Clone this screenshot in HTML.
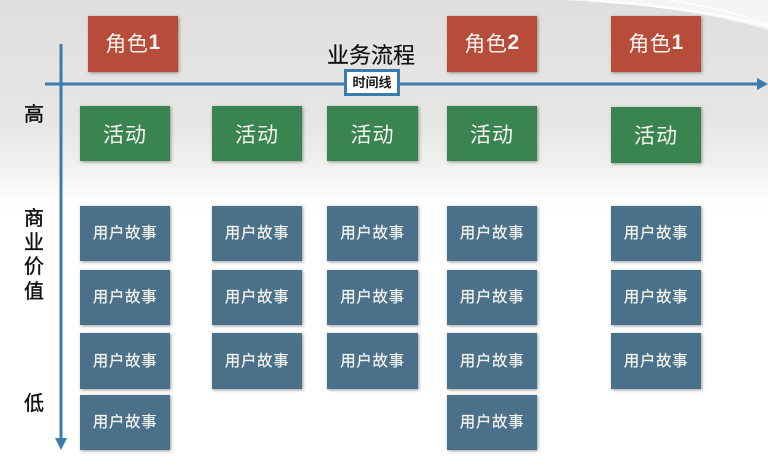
<!DOCTYPE html>
<html><head><meta charset="utf-8">
<style>
html,body{margin:0;padding:0;background:#fff}
#c{position:relative;width:768px;height:475px;overflow:hidden;font-family:"Liberation Sans","Noto Sans CJK SC",sans-serif;background:linear-gradient(#dfdedc 0,#e3e3e1 60px,#e6e6e4 125px,#f2f2f1 170px,#fdfdfd 200px,#fff 215px)}
.b{position:absolute;display:flex;align-items:center;justify-content:center;color:#f6f4ef;box-shadow:1px 1px 3px rgba(70,70,70,.55);white-space:nowrap}
.b b{margin-left:0;font-size:21px}
.r{background:#b84c3a;font-size:21px;height:56px;letter-spacing:.6px;padding-bottom:2px;box-sizing:border-box}
.g{background:#3a8452;font-size:21px;height:55px;letter-spacing:1px}
.u{background:#4a7189;font-size:15.5px;height:55px;letter-spacing:.6px;padding-bottom:3px;box-sizing:border-box;-webkit-text-stroke:.2px #f6f4ef}
.t{position:absolute;color:#111;font-size:20px;line-height:24px;-webkit-text-stroke:.4px #111}
svg{position:absolute;left:0;top:0}
</style></head><body><div id="c">
<svg width="768" height="475">
<path d="M560 0 Q690 6 768 30 L768 0Z" fill="#f5f5f4"/>
<path d="M590 0 Q700 8 768 26" fill="none" stroke="#fff" stroke-width="2"/>
<path d="M670 0 Q730 10 768 24" fill="none" stroke="#fff" stroke-width="1.5"/>
<line x1="45" y1="84" x2="760" y2="84" stroke="#3a7cae" stroke-width="3"/>
<path d="M757 78 L768 84 L757 90Z" fill="#3a7cae"/>
<line x1="61" y1="44" x2="61" y2="441" stroke="#3a7cae" stroke-width="3"/>
<path d="M55 438 L67 438 L61 450Z" fill="#3a7cae"/>
</svg>

<div class="b r" style="left:88px;top:16px;width:90px">角色<b>1</b></div>
<div class="b r" style="left:447px;top:16px;width:90px">角色<b>2</b></div>
<div class="b r" style="left:611px;top:16px;width:90px">角色<b>1</b></div>

<div class="t" style="left:327px;top:43px;font-size:22px;line-height:26px;white-space:nowrap;-webkit-text-stroke:.2px #111">业务流程</div>
<div style="position:absolute;left:344px;top:69px;width:50px;height:21px;border:3px solid #3a7cae;background:#fff;color:#1a1a1a;font-size:13px;font-weight:bold;line-height:21px;text-align:center">时间线</div>

<div class="b g" style="left:80px;top:106px;width:90px">活动</div>
<div class="b g" style="left:212px;top:106px;width:90px">活动</div>
<div class="b g" style="left:327px;top:106px;width:91px">活动</div>
<div class="b g" style="left:447px;top:106px;width:90px">活动</div>
<div class="b g" style="left:611px;top:107px;width:90px;height:56px">活动</div>

<div class="t" style="left:24px;top:103px">高</div>
<div class="t" style="left:24px;top:207px">商</div>
<div class="t" style="left:24px;top:231px">业</div>
<div class="t" style="left:24px;top:255px">价</div>
<div class="t" style="left:24px;top:280px">值</div>
<div class="t" style="left:24px;top:392px">低</div>

<div class="b u" style="left:80px;top:206px;width:90px">用户故事</div>
<div class="b u" style="left:212px;top:206px;width:90px">用户故事</div>
<div class="b u" style="left:327px;top:206px;width:91px">用户故事</div>
<div class="b u" style="left:447px;top:206px;width:90px">用户故事</div>
<div class="b u" style="left:611px;top:206px;width:90px">用户故事</div>

<div class="b u" style="left:80px;top:270px;width:90px">用户故事</div>
<div class="b u" style="left:212px;top:270px;width:90px">用户故事</div>
<div class="b u" style="left:327px;top:270px;width:91px">用户故事</div>
<div class="b u" style="left:447px;top:270px;width:90px">用户故事</div>
<div class="b u" style="left:611px;top:270px;width:90px">用户故事</div>

<div class="b u" style="left:80px;top:333px;width:90px;height:56px">用户故事</div>
<div class="b u" style="left:212px;top:333px;width:90px;height:56px">用户故事</div>
<div class="b u" style="left:327px;top:333px;width:91px;height:56px">用户故事</div>
<div class="b u" style="left:447px;top:333px;width:90px;height:56px">用户故事</div>
<div class="b u" style="left:611px;top:333px;width:90px;height:56px">用户故事</div>

<div class="b u" style="left:80px;top:395px;width:90px">用户故事</div>
<div class="b u" style="left:447px;top:395px;width:90px">用户故事</div>
</div></body></html>
